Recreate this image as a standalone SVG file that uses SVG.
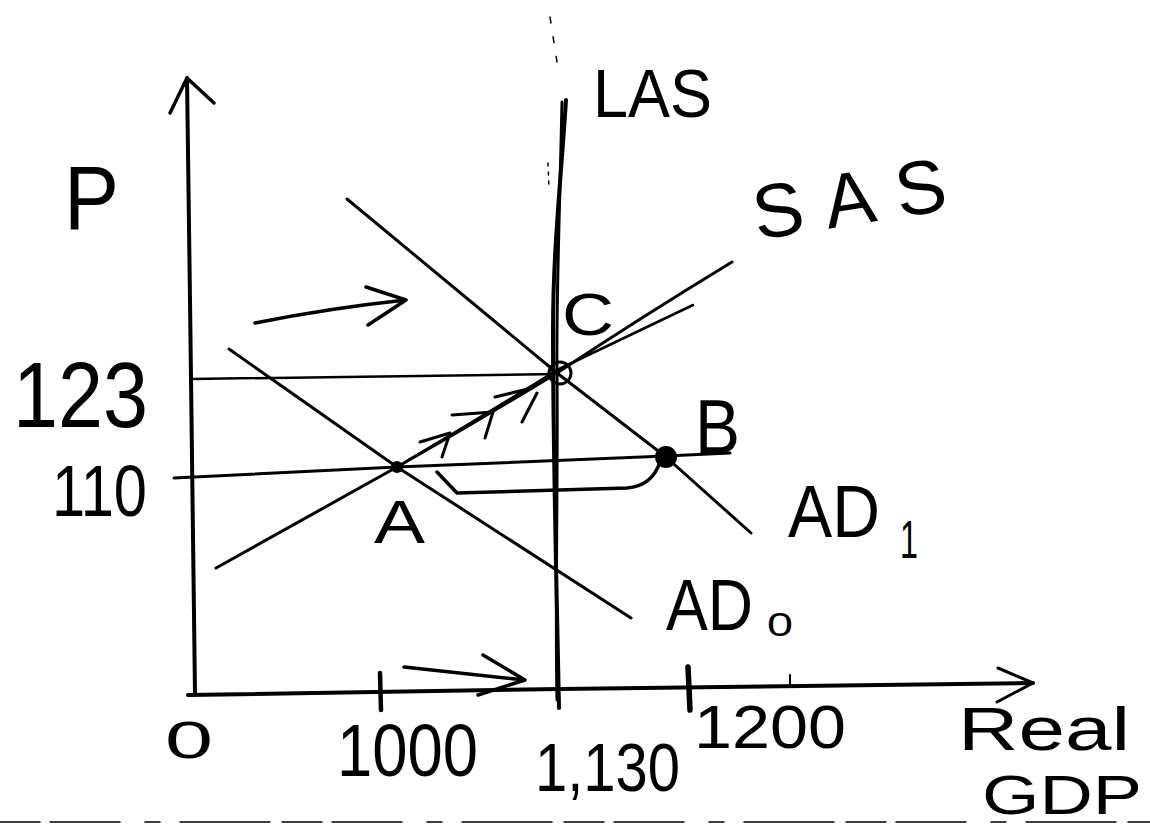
<svg xmlns="http://www.w3.org/2000/svg" width="1150" height="829" viewBox="0 0 1150 829">
<style>
.ln{fill:none;stroke:#000;stroke-linecap:round;stroke-linejoin:round}
.t{font-family:"Liberation Sans","DejaVu Sans",sans-serif;fill:#000}
</style>
<rect width="1150" height="829" fill="#fff"/>
<g id="connectors">
  <!-- axes -->
  <path id="y-axis" class="ln" stroke-width="4" d="M187 78 L190 300 L195 693"/>
  <path class="ln" stroke-width="3.5" d="M170 113 L187 78 L214 103"/>
  <path id="x-axis" class="ln" stroke-width="4" d="M188 695 L560 689 L1033 683"/>
  <path class="ln" stroke-width="3" d="M998 668 L1033 683 L997 702"/>
  <!-- ticks -->
  <path class="ln" stroke-width="4.5" d="M380 673 L381 710"/>
  <path class="ln" stroke-width="5.5" d="M688 667 L690 710"/>
  <path class="ln" stroke-width="2" d="M790 675 L790 684"/>
  <!-- LAS -->
  <path id="las" class="ln" stroke-width="4" d="M566 100 C561 180 553 250 553 330 C553 450 556 560 559 708"/>
  <path class="ln" stroke-width="3" d="M562 102 C560 200 556 300 557 373 C558 480 555 600 557 700"/>
  <path class="ln" stroke-width="1.5" stroke-dasharray="6 14" d="M550 17 L557 62"/>
  <path class="ln" stroke-width="1.5" stroke-dasharray="3 6" d="M548 163 L549 188"/>
  <!-- SAS -->
  <path id="sas" class="ln" stroke-width="3" d="M216 568 L397 467 Q480 420 557 373 Q640 318 732 262"/>
  <path class="ln" stroke-width="2.5" d="M405 462 Q480 418 557 370 L693 305"/>
  <!-- chevrons on SAS -->
  <path class="ln" stroke-width="3" d="M420 442 L450 433 L442 457"/>
  <path class="ln" stroke-width="3" d="M452 415 L493 412 L485 438"/>
  <path class="ln" stroke-width="3" d="M495 397 L532 388 M537 393 L522 422"/>
  <!-- AD0 -->
  <path id="ad0" class="ln" stroke-width="3" d="M229 349 L397 467 L631 618"/>
  <!-- AD1 -->
  <path id="ad1" class="ln" stroke-width="3" d="M347 199 L557 373 L666 457 L751 533"/>
  <!-- horizontals -->
  <path class="ln" stroke-width="2.5" d="M191 379 L557 374"/>
  <path class="ln" stroke-width="3" d="M174 478 L397 467 L666 456 L730 453"/>
  <!-- bracket from A to B -->
  <path class="ln" stroke-width="3.5" d="M437 472 L457 493 L627 488 Q652 486 660 462"/>
  <!-- shift arrows -->
  <path class="ln" stroke-width="3.5" d="M255 323 Q330 308 406 300 M366 287 L406 300 L368 325"/>
  <path class="ln" stroke-width="3.5" d="M404 667 L525 680 M483 655 L525 680 L478 695"/>
  <!-- scan line -->
  <path class="ln" stroke="#444" stroke-width="1.5" stroke-dasharray="40 10 70 25 15 20 90 12" d="M0 822 L1150 822"/>
</g>
<g id="point-a"><circle cx="397" cy="467" r="6" fill="#000"/></g>
<g id="point-b"><circle cx="666" cy="457" r="11" fill="#000"/></g>
<g id="point-c"><circle cx="560" cy="373" r="11" fill="none" stroke="#000" stroke-width="3"/></g>
<g id="labels">
  <text class="t" x="64" y="229" font-size="90" textLength="55" lengthAdjust="spacingAndGlyphs">P</text>
  <text class="t" x="13" y="427" font-size="92" textLength="135" lengthAdjust="spacingAndGlyphs">123</text>
  <text class="t" x="52" y="516" font-size="72" textLength="95" lengthAdjust="spacingAndGlyphs">110</text>
  <text class="t" x="165" y="758" font-size="52" textLength="48" lengthAdjust="spacingAndGlyphs">0</text>
  <text class="t" x="337" y="776" font-size="74" textLength="141" lengthAdjust="spacingAndGlyphs">1000</text>
  <text class="t" x="535" y="791" font-size="68" textLength="145" lengthAdjust="spacingAndGlyphs">1,130</text>
  <text class="t" x="694" y="748" font-size="62" textLength="152" lengthAdjust="spacingAndGlyphs">1200</text>
  <text class="t" x="958" y="750" font-size="62" textLength="172" lengthAdjust="spacingAndGlyphs">Real</text>
  <text class="t" x="982" y="814" font-size="56" textLength="160" lengthAdjust="spacingAndGlyphs">GDP</text>
  <text class="t" x="593" y="117" font-size="68" textLength="119" lengthAdjust="spacingAndGlyphs">LAS</text>
  <text class="t" x="757" y="240" font-size="76" textLength="195" lengthAdjust="spacing" transform="rotate(-9 757 240)">SAS</text>
  <text class="t" x="562" y="335" font-size="60" textLength="52" lengthAdjust="spacingAndGlyphs">C</text>
  <text class="t" x="374" y="543" font-size="62" textLength="51" lengthAdjust="spacingAndGlyphs">A</text>
  <text class="t" x="695" y="453" font-size="76" textLength="45" lengthAdjust="spacingAndGlyphs">B</text>
  <text class="t" x="788" y="537" font-size="74" textLength="92" lengthAdjust="spacingAndGlyphs">AD</text>
  <text class="t" x="900" y="558" font-size="54" textLength="18" lengthAdjust="spacingAndGlyphs">1</text>
  <text class="t" x="666" y="630" font-size="72" textLength="87" lengthAdjust="spacingAndGlyphs">AD</text>
  <text class="t" x="767" y="636" font-size="34" textLength="26" lengthAdjust="spacingAndGlyphs">0</text>
</g>
</svg>
